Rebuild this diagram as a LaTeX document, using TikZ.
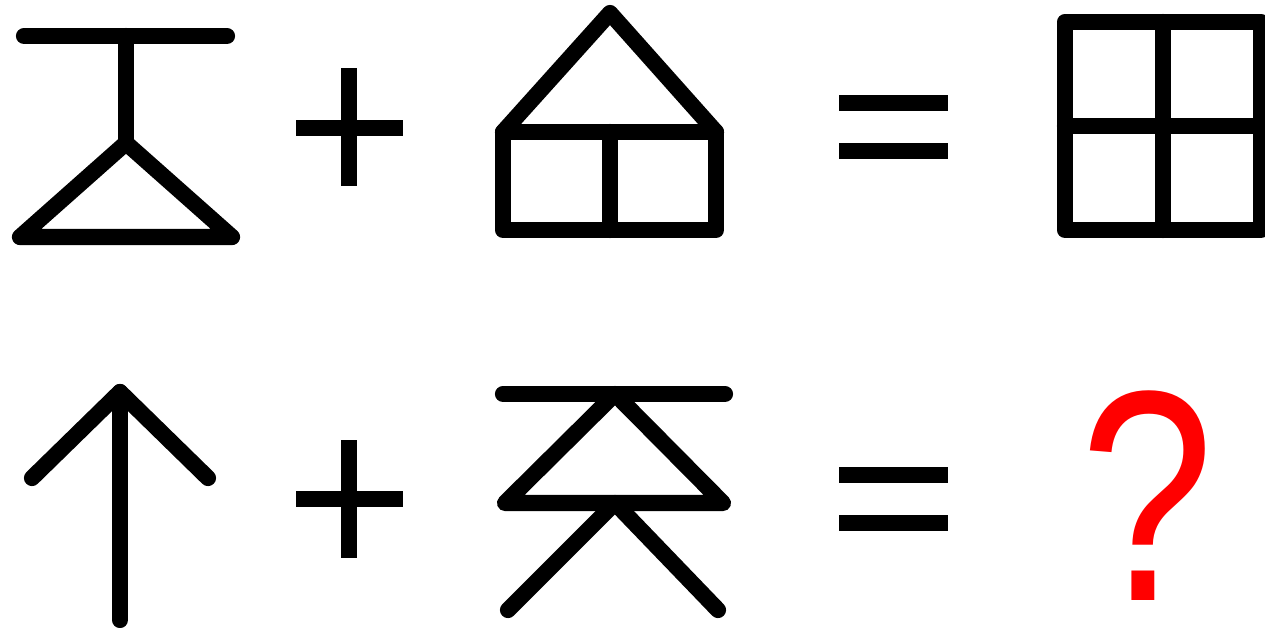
\documentclass[tikz,border=0pt]{standalone}
\usepackage{fontspec}
\setmainfont{Liberation Sans}
\usepackage{xcolor}

\begin{document}
\begin{tikzpicture}[x=0.02cm, y=-0.02cm,
    glyph/.style={line width=9.2pt, line cap=round, line join=round},
    sign/.style={line width=9pt, line cap=butt},
    bar/.style={line width=9.6pt, line cap=butt}]
    \useasboundingbox (0,0) rectangle (1265,627);

    % Top row
    \draw[glyph] (24,36) -- (227,36);
    \draw[glyph] (126,36) -- (126,143);
    \draw[glyph] (126,143) -- (20,237) -- (232,237) -- cycle;

    \draw[sign] (349,68) -- (349,186);
    \draw[sign] (296,128) -- (403,128);

    \draw[glyph] (503,132) -- (610,13) -- (716,132);
    \draw[glyph] (503,132) rectangle (716,230);
    \draw[glyph] (610,132) -- (610,230);

    \draw[bar] (839,103) -- (948,103);
    \draw[bar] (839,151) -- (948,151);

    \draw[glyph] (1065,22) rectangle (1261,230);
    \draw[glyph] (1065,126) -- (1261,126);
    \draw[glyph] (1163,22) -- (1163,230);

    % Bottom row
    \draw[glyph] (120,392) -- (120,620);
    \draw[glyph] (32,478) -- (120,392) -- (208,478);

    \draw[sign] (349,440) -- (349,558);
    \draw[sign] (296,499) -- (403,499);

    \draw[glyph] (503,394) -- (725,394);
    \draw[glyph] (615,394) -- (723,503) -- (505,503) -- cycle;
    \draw[glyph] (508,610) -- (615,503) -- (718,610);

    \draw[bar] (839,475) -- (948,475);
    \draw[bar] (839,523) -- (948,523);

    \node (ask) [anchor=base, inner sep=0pt, xscale=0.8, text=red, font=\fontsize{171}{171}\selectfont] at (1147,600) {?};
\end{tikzpicture}
\end{document}
